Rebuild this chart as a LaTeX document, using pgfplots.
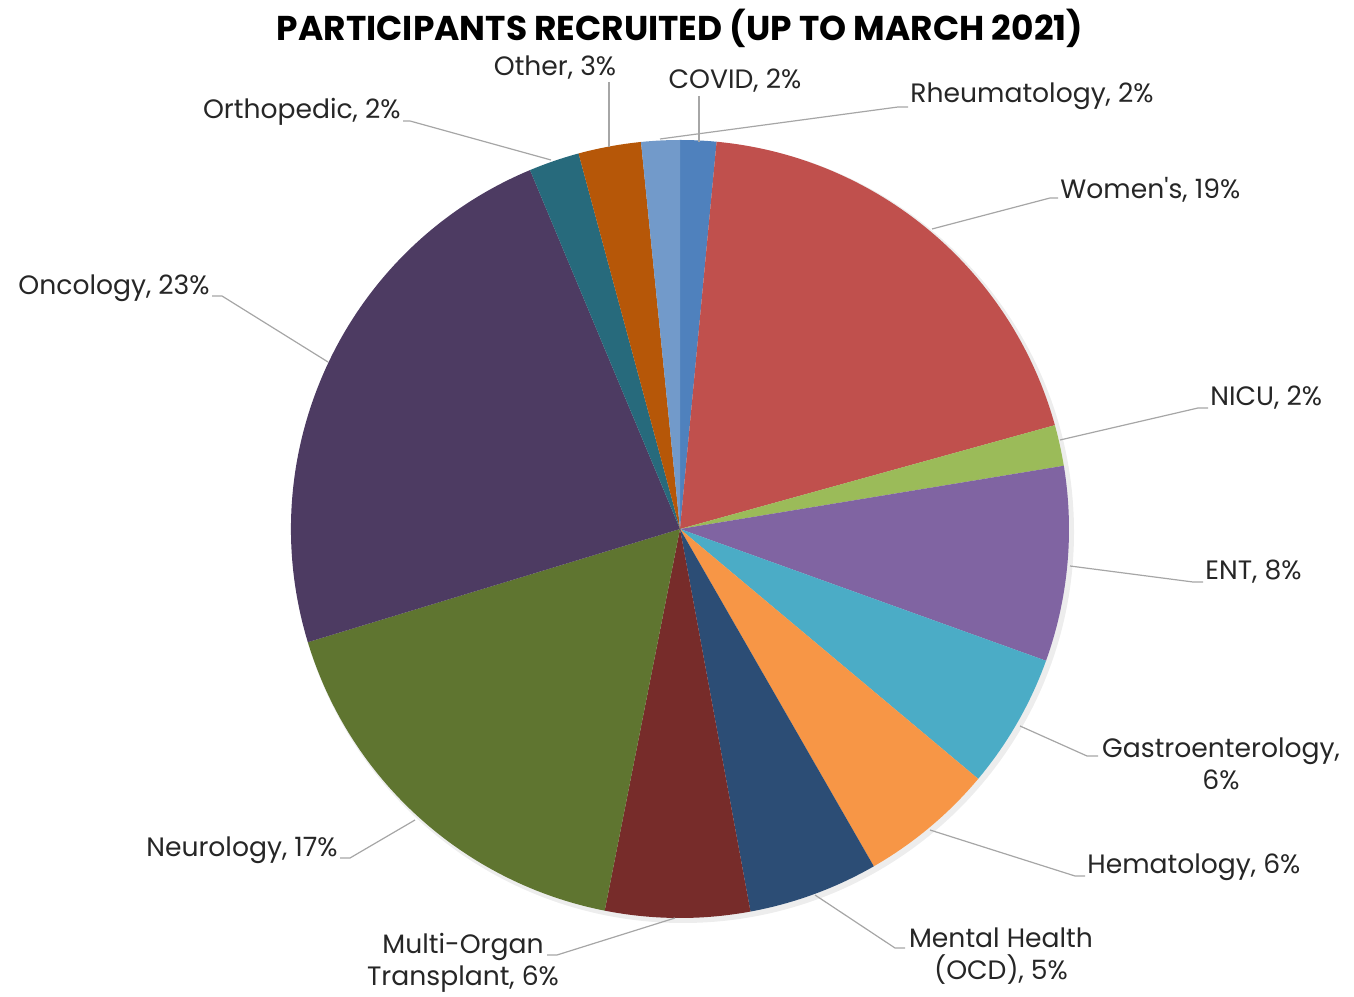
\documentclass[border=0pt]{standalone}
\usepackage{pgfplots}
\pgfplotsset{compat=1.18}
\usepackage{pgfplotstable}
\usepackage{fontspec}
\setmainfont{Poppins}
\newfontfamily\lblfont{Poppins}

\definecolor{c0}{HTML}{4F81BD}
\definecolor{c1}{HTML}{C0504D}
\definecolor{c2}{HTML}{9BBB59}
\definecolor{c3}{HTML}{8064A2}
\definecolor{c4}{HTML}{4BACC6}
\definecolor{c5}{HTML}{F79646}
\definecolor{c6}{HTML}{2C4D75}
\definecolor{c7}{HTML}{772C2A}
\definecolor{c8}{HTML}{5F7530}
\definecolor{c9}{HTML}{4D3B62}
\definecolor{c10}{HTML}{276A7C}
\definecolor{c11}{HTML}{B65708}
\definecolor{c12}{HTML}{729ACA}
\definecolor{lbl}{HTML}{262626}

% slice shares (percent), clockwise from 12 o'clock
\pgfplotstableread{
idx slice          value
0   COVID          1.5
1   Womens         19.2
2   NICU           1.7
3   ENT            8.1
4   Gastro         5.6
5   Hematology     5.6
6   MentalHealth   5.4
7   MultiOrgan     6.0
8   Neurology      17.2
9   Oncology       23.4
10  Orthopedic     2.1
11  Other          2.6
12  Rheumatology   1.6
}\piedata

\begin{document}
\begin{tikzpicture}
\gdef\cumsum{0}%
\foreach \i in {0,...,12}{%
  \pgfplotstablegetelem{\i}{value}\of\piedata
  \pgfmathsetmacro\s{90-3.6*\cumsum}%
  \pgfmathsetmacro\newcum{\cumsum+\pgfplotsretval}%
  \pgfmathsetmacro\e{90-3.6*\newcum}%
  \expandafter\xdef\csname sA\i\endcsname{\s}%
  \expandafter\xdef\csname eA\i\endcsname{\e}%
  \xdef\cumsum{\newcum}%
}%
\begin{axis}[
  x=0.5pt, y=0.5pt,
  xmin=0, xmax=1354, ymin=0, ymax=996,
  hide axis, clip=false,
]
\path (rel axis cs:0,0) rectangle (rel axis cs:1,1);
% soft shadow
\fill[black!7] (axis cs:683,464) circle[radius=195.5pt];
\pgfplotsinvokeforeach{0,...,12}{%
  \fill[c#1] (axis cs:680,467) -- ++(\csname sA#1\endcsname:194.5pt)
     arc[start angle=\csname sA#1\endcsname, end angle=\csname eA#1\endcsname, radius=194.5pt] -- cycle;
}
% title
\node[font=\bfseries\fontsize{17.2}{20}\selectfont, text=black] at (axis cs:680,968) {PARTICIPANTS RECRUITED (UP TO MARCH 2021)};
% leader lines
\begin{scope}[draw=black!35, line width=0.6pt]
\draw (axis cs:609,914) -- (axis cs:609,849);
\draw (axis cs:699,900) -- (axis cs:699,854);
\draw (axis cs:660,857) -- (axis cs:898,889) -- (axis cs:908,889);
\draw (axis cs:403,875) -- (axis cs:410,875) -- (axis cs:551,836);
\draw (axis cs:932,767) -- (axis cs:1050,798) -- (axis cs:1058,798);
\draw (axis cs:1060,556) -- (axis cs:1198,588) -- (axis cs:1208,588);
\draw (axis cs:1070,430) -- (axis cs:1193,414) -- (axis cs:1203,414);
\draw (axis cs:1020,270) -- (axis cs:1087,240) -- (axis cs:1098,240);
\draw (axis cs:930,166) -- (axis cs:1075,120) -- (axis cs:1085,120);
\draw (axis cs:815,101) -- (axis cs:895,48) -- (axis cs:905,48);
\draw (axis cs:675,78) -- (axis cs:557,41) -- (axis cs:547,41);
\draw (axis cs:415,176) -- (axis cs:350,138) -- (axis cs:340,138);
\draw (axis cs:328,634) -- (axis cs:222,700) -- (axis cs:212,700);
\end{scope}
% labels
\begin{scope}[every node/.style={font=\lblfont\fontsize{13.3}{16}\selectfont, text=lbl, inner sep=0pt}]
\node at (axis cs:555,928) {Other, 3\%};
\node at (axis cs:735,915) {COVID, 2\%};
\node[anchor=west] at (axis cs:910,900) {Rheumatology, 2\%};
\node[anchor=east] at (axis cs:401,884) {Orthopedic, 2\%};
\node[anchor=west] at (axis cs:1060,806) {Women's, 19\%};
\node[anchor=west] at (axis cs:1210,598) {NICU, 2\%};
\node[anchor=west] at (axis cs:1205,424) {ENT, 8\%};
\node[align=center] at (axis cs:1221,232) {Gastroenterology,\\6\%};
\node[anchor=west] at (axis cs:1087,129) {Hematology, 6\%};
\node[align=center] at (axis cs:1001,40) {Mental Health\\(OCD), 5\%};
\node[align=center] at (axis cs:463,33) {Multi-Organ\\Transplant, 6\%};
\node[anchor=east] at (axis cs:338,146) {Neurology, 17\%};
\node[anchor=east] at (axis cs:210,708) {Oncology, 23\%};
\end{scope}
\end{axis}
\end{tikzpicture}
\end{document}
